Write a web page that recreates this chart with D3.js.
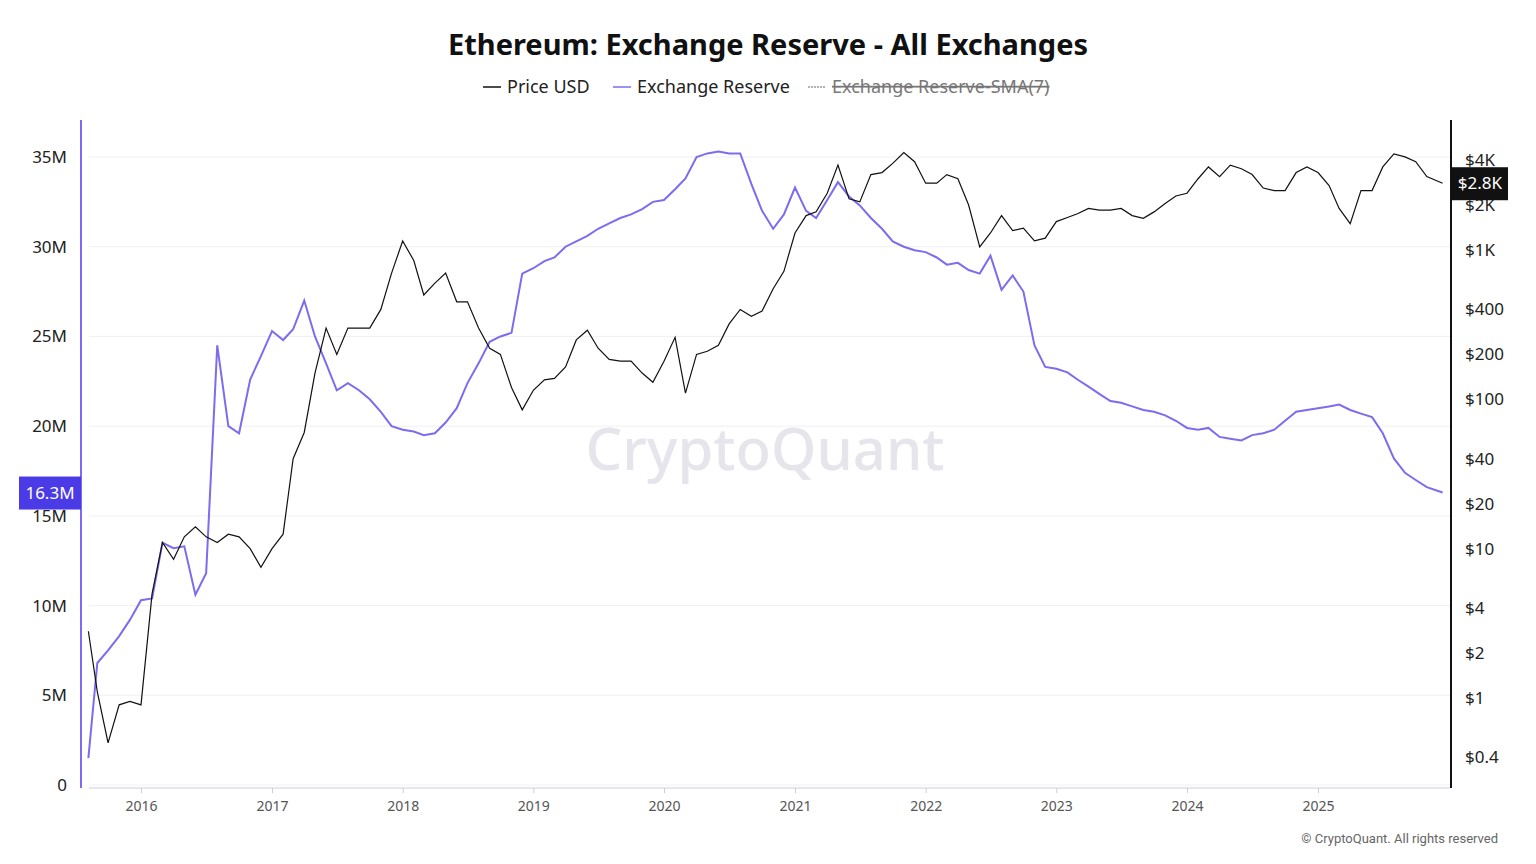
<!doctype html>
<html>
<head>
<meta charset="utf-8">
<title>Ethereum: Exchange Reserve - All Exchanges</title>
<script src="https://cdn.jsdelivr.net/npm/d3@7"></script>
<style>
  body { margin: 0; background: #fff; font-family: "Noto Sans", "Open Sans", sans-serif; }
</style>
</head>
<body>
<div id="chart"></div>
<script>
  // monthly samples
  var startDate = '2015-08-07';
  var endDate = '2025-12-15';
  var reserveM = [
    1.5, 6.8, 7.5, 8.3, 9.2,
    10.3, 10.4, 13.5, 13.2, 13.3, 10.6, 11.8, 24.5, 20.0, 19.6, 22.6, 23.9,
    25.3, 24.8, 25.4, 27.0, 25.0, 23.5, 22.0, 22.4, 22.0, 21.5, 20.8, 20.0,
    19.8, 19.7, 19.5, 19.6, 20.2, 21.0, 22.4, 23.5, 24.7, 25.0, 25.2, 28.5,
    28.8, 29.2, 29.4, 30.0, 30.3, 30.6, 31.0, 31.3, 31.6, 31.8, 32.1, 32.5,
    32.6, 33.2, 33.8, 35.0, 35.2, 35.3, 35.2, 35.2, 33.5, 32.0, 31.0, 31.8,
    33.3, 32.0, 31.6, 32.6, 33.6, 32.8, 32.3, 31.6, 31.0, 30.3, 30.0, 29.8,
    29.7, 29.4, 29.0, 29.1, 28.7, 28.5, 29.5, 27.6, 28.4, 27.5, 24.5, 23.3,
    23.2, 23.0, 22.6, 22.2, 21.8, 21.4, 21.3, 21.1, 20.9, 20.8, 20.6, 20.3,
    19.9, 19.8, 19.9, 19.4, 19.3, 19.2, 19.5, 19.6, 19.8, 20.3, 20.8, 20.9,
    21.0, 21.1, 21.2, 20.9, 20.7, 20.5, 19.6, 18.2, 17.4, 17.0, 16.6, 16.3
  ];
  var priceUsd = [
    2.8, 1.1, 0.5, 0.9, 0.95,
    0.9, 5, 11, 8.5, 12, 14, 12, 11, 12.5, 12, 10, 7.5,
    10, 12.5, 40, 60, 150, 300, 200, 300, 300, 300, 400, 700,
    1150, 850, 500, 600, 700, 450, 450, 300, 220, 200, 120, 85,
    115, 135, 138, 165, 250, 290, 220, 185, 180, 180, 150, 130,
    180, 260, 110, 200, 210, 230, 320, 400, 360, 390, 550, 720,
    1300, 1700, 1800, 2400, 3700, 2200, 2100, 3200, 3300, 3800, 4500, 3900,
    2800, 2800, 3200, 3000, 2000, 1050, 1300, 1700, 1350, 1400, 1150, 1200,
    1550, 1650, 1750, 1900, 1850, 1850, 1900, 1700, 1630, 1800, 2050, 2300,
    2400, 3000, 3600, 3100, 3700, 3500, 3200, 2600, 2500, 2500, 3300, 3600,
    3300, 2700, 1900, 1500, 2500, 2500, 3600, 4400, 4200, 3900, 3100, 2800
  ];
  var leftTicks = [0, 5, 10, 15, 20, 25, 30, 35];
  var rightTicks = [0.4, 1, 2, 4, 10, 20, 40, 100, 200, 400, 1000, 2000, 4000];
  var rightLabels = ['$0.4', '$1', '$2', '$4', '$10', '$20', '$40', '$100', '$200', '$400', '$1K', '$2K', '$4K'];

  var parse = d3.timeParse('%Y-%m-%d');
  var dates = [parse(startDate)]
      .concat(d3.timeMonth.range(parse('2015-09-01'), parse('2025-11-02')))
      .concat([parse(endDate)]);

  var W = 1536, H = 864;
  var purple = '#7b6cf0';
  var svg = d3.select('#chart').append('svg').attr('width', W).attr('height', H);

  var x = d3.scaleTime()
      .domain([parse('2016-01-01'), parse('2025-01-01')])
      .range([141, 1318]);
  var yL = d3.scaleLinear().domain([0, 35]).range([785, 157]);
  var yR = d3.scaleLog().domain([1, 1000]).range([698, 250]);

  // gridlines
  svg.append('g').selectAll('line').data(leftTicks).enter().append('line')
      .attr('x1', 89).attr('x2', 1450)
      .attr('y1', function(d) { return yL(d); }).attr('y2', function(d) { return yL(d); })
      .attr('stroke', '#f0f0f3');

  // axes
  var yLAxis = svg.append('g').attr('transform', 'translate(81,0)')
      .call(d3.axisLeft(yL).tickValues(leftTicks).tickSize(0).tickPadding(14)
        .tickFormat(function(d) { return d === 0 ? '0' : d + 'M'; }));
  yLAxis.select('.domain').remove();
  yLAxis.selectAll('text').attr('font-size', '17px').attr('fill', '#222').attr('font-family', 'Noto Sans');
  svg.append('line').attr('x1', 81).attr('x2', 81).attr('y1', 120).attr('y2', 788)
      .attr('stroke', purple).attr('stroke-width', 2);

  var yRAxis = svg.append('g').attr('transform', 'translate(1451,0)')
      .call(d3.axisRight(yR).tickValues(rightTicks).tickSize(0).tickPadding(14)
        .tickFormat(function(d, i) { return rightLabels[i]; }));
  yRAxis.select('.domain').remove();
  yRAxis.selectAll('text').attr('font-size', '17px').attr('fill', '#222').attr('font-family', 'Noto Sans');
  svg.append('line').attr('x1', 1451).attr('x2', 1451).attr('y1', 120).attr('y2', 788)
      .attr('stroke', '#111').attr('stroke-width', 2);

  var xAxis = svg.append('g').attr('transform', 'translate(0,788)')
      .call(d3.axisBottom(x).ticks(d3.timeYear.every(1)).tickSize(5).tickPadding(8)
        .tickFormat(d3.timeFormat('%Y')));
  xAxis.select('.domain').attr('d', 'M89,0H1450').attr('stroke', '#ccd');
  xAxis.selectAll('.tick line').attr('stroke', '#ccd');
  xAxis.selectAll('text').attr('font-size', '14px').attr('fill', '#555').attr('font-family', 'Noto Sans');

  // watermark
  svg.append('text').attr('x', 765).attr('y', 470).attr('text-anchor', 'middle')
      .attr('font-size', '58px').attr('font-weight', 500).attr('fill', '#e6e5ec')
      .attr('font-family', 'Noto Sans').text('CryptoQuant');

  // lines
  var reserveLine = d3.line()
      .x(function(d, i) { return x(dates[i]); })
      .y(function(d) { return yL(d); });
  var priceLine = d3.line()
      .x(function(d, i) { return x(dates[i]); })
      .y(function(d) { return yR(d); });
  svg.append('path').datum(reserveM).attr('d', reserveLine)
      .attr('fill', 'none').attr('stroke', purple).attr('stroke-width', 2);
  svg.append('path').datum(priceUsd).attr('d', priceLine)
      .attr('fill', 'none').attr('stroke', '#111').attr('stroke-width', 1.2);

  // current value labels
  var lastR = reserveM[reserveM.length - 1], lastP = priceUsd[priceUsd.length - 1];
  svg.append('rect').attr('x', 19).attr('y', yL(lastR) - 16).attr('width', 62).attr('height', 33).attr('fill', '#4b3be6');
  svg.append('text').attr('x', 50).attr('y', yL(lastR) + 6).attr('text-anchor', 'middle')
      .attr('font-size', '17px').attr('fill', '#fff').text(lastR + 'M');
  svg.append('rect').attr('x', 1452).attr('y', yR(lastP) - 16).attr('width', 56).attr('height', 33).attr('fill', '#111');
  svg.append('text').attr('x', 1480).attr('y', yR(lastP) + 6).attr('text-anchor', 'middle')
      .attr('font-size', '17px').attr('fill', '#fff').text('$' + (lastP / 1000).toFixed(1) + 'K');

  // title & legend
  svg.append('text').attr('x', 768).attr('y', 55).attr('text-anchor', 'middle')
      .attr('font-size', '29px').attr('font-weight', 700).attr('fill', '#111').text('Ethereum: Exchange Reserve - All Exchanges');
  var legend = [
    {label: 'Price USD', x: 483, color: '#111', dash: null, off: false},
    {label: 'Exchange Reserve', x: 613, color: purple, dash: null, off: false},
    {label: 'Exchange Reserve-SMA(7)', x: 808, color: '#999', dash: '2,1', off: true}
  ];
  var lg = svg.append('g').selectAll('g').data(legend).enter().append('g');
  lg.append('line').attr('x1', function(d) { return d.x; }).attr('x2', function(d) { return d.x + 18; })
      .attr('y1', 87).attr('y2', 87).attr('stroke', function(d) { return d.color; })
      .attr('stroke-width', 1.5).attr('stroke-dasharray', function(d) { return d.dash; });
  lg.append('text').attr('x', function(d) { return d.x + 24; }).attr('y', 93)
      .attr('font-size', '18px').attr('fill', function(d) { return d.off ? '#777' : '#222'; })
      .attr('text-decoration', function(d) { return d.off ? 'line-through' : null; })
      .text(function(d) { return d.label; });

  svg.append('text').attr('x', 1498).attr('y', 843).attr('text-anchor', 'end')
      .attr('font-size', '13px').attr('fill', '#666').attr('font-family', 'Roboto')
      .text('© CryptoQuant. All rights reserved');
</script>
</body>
</html>
